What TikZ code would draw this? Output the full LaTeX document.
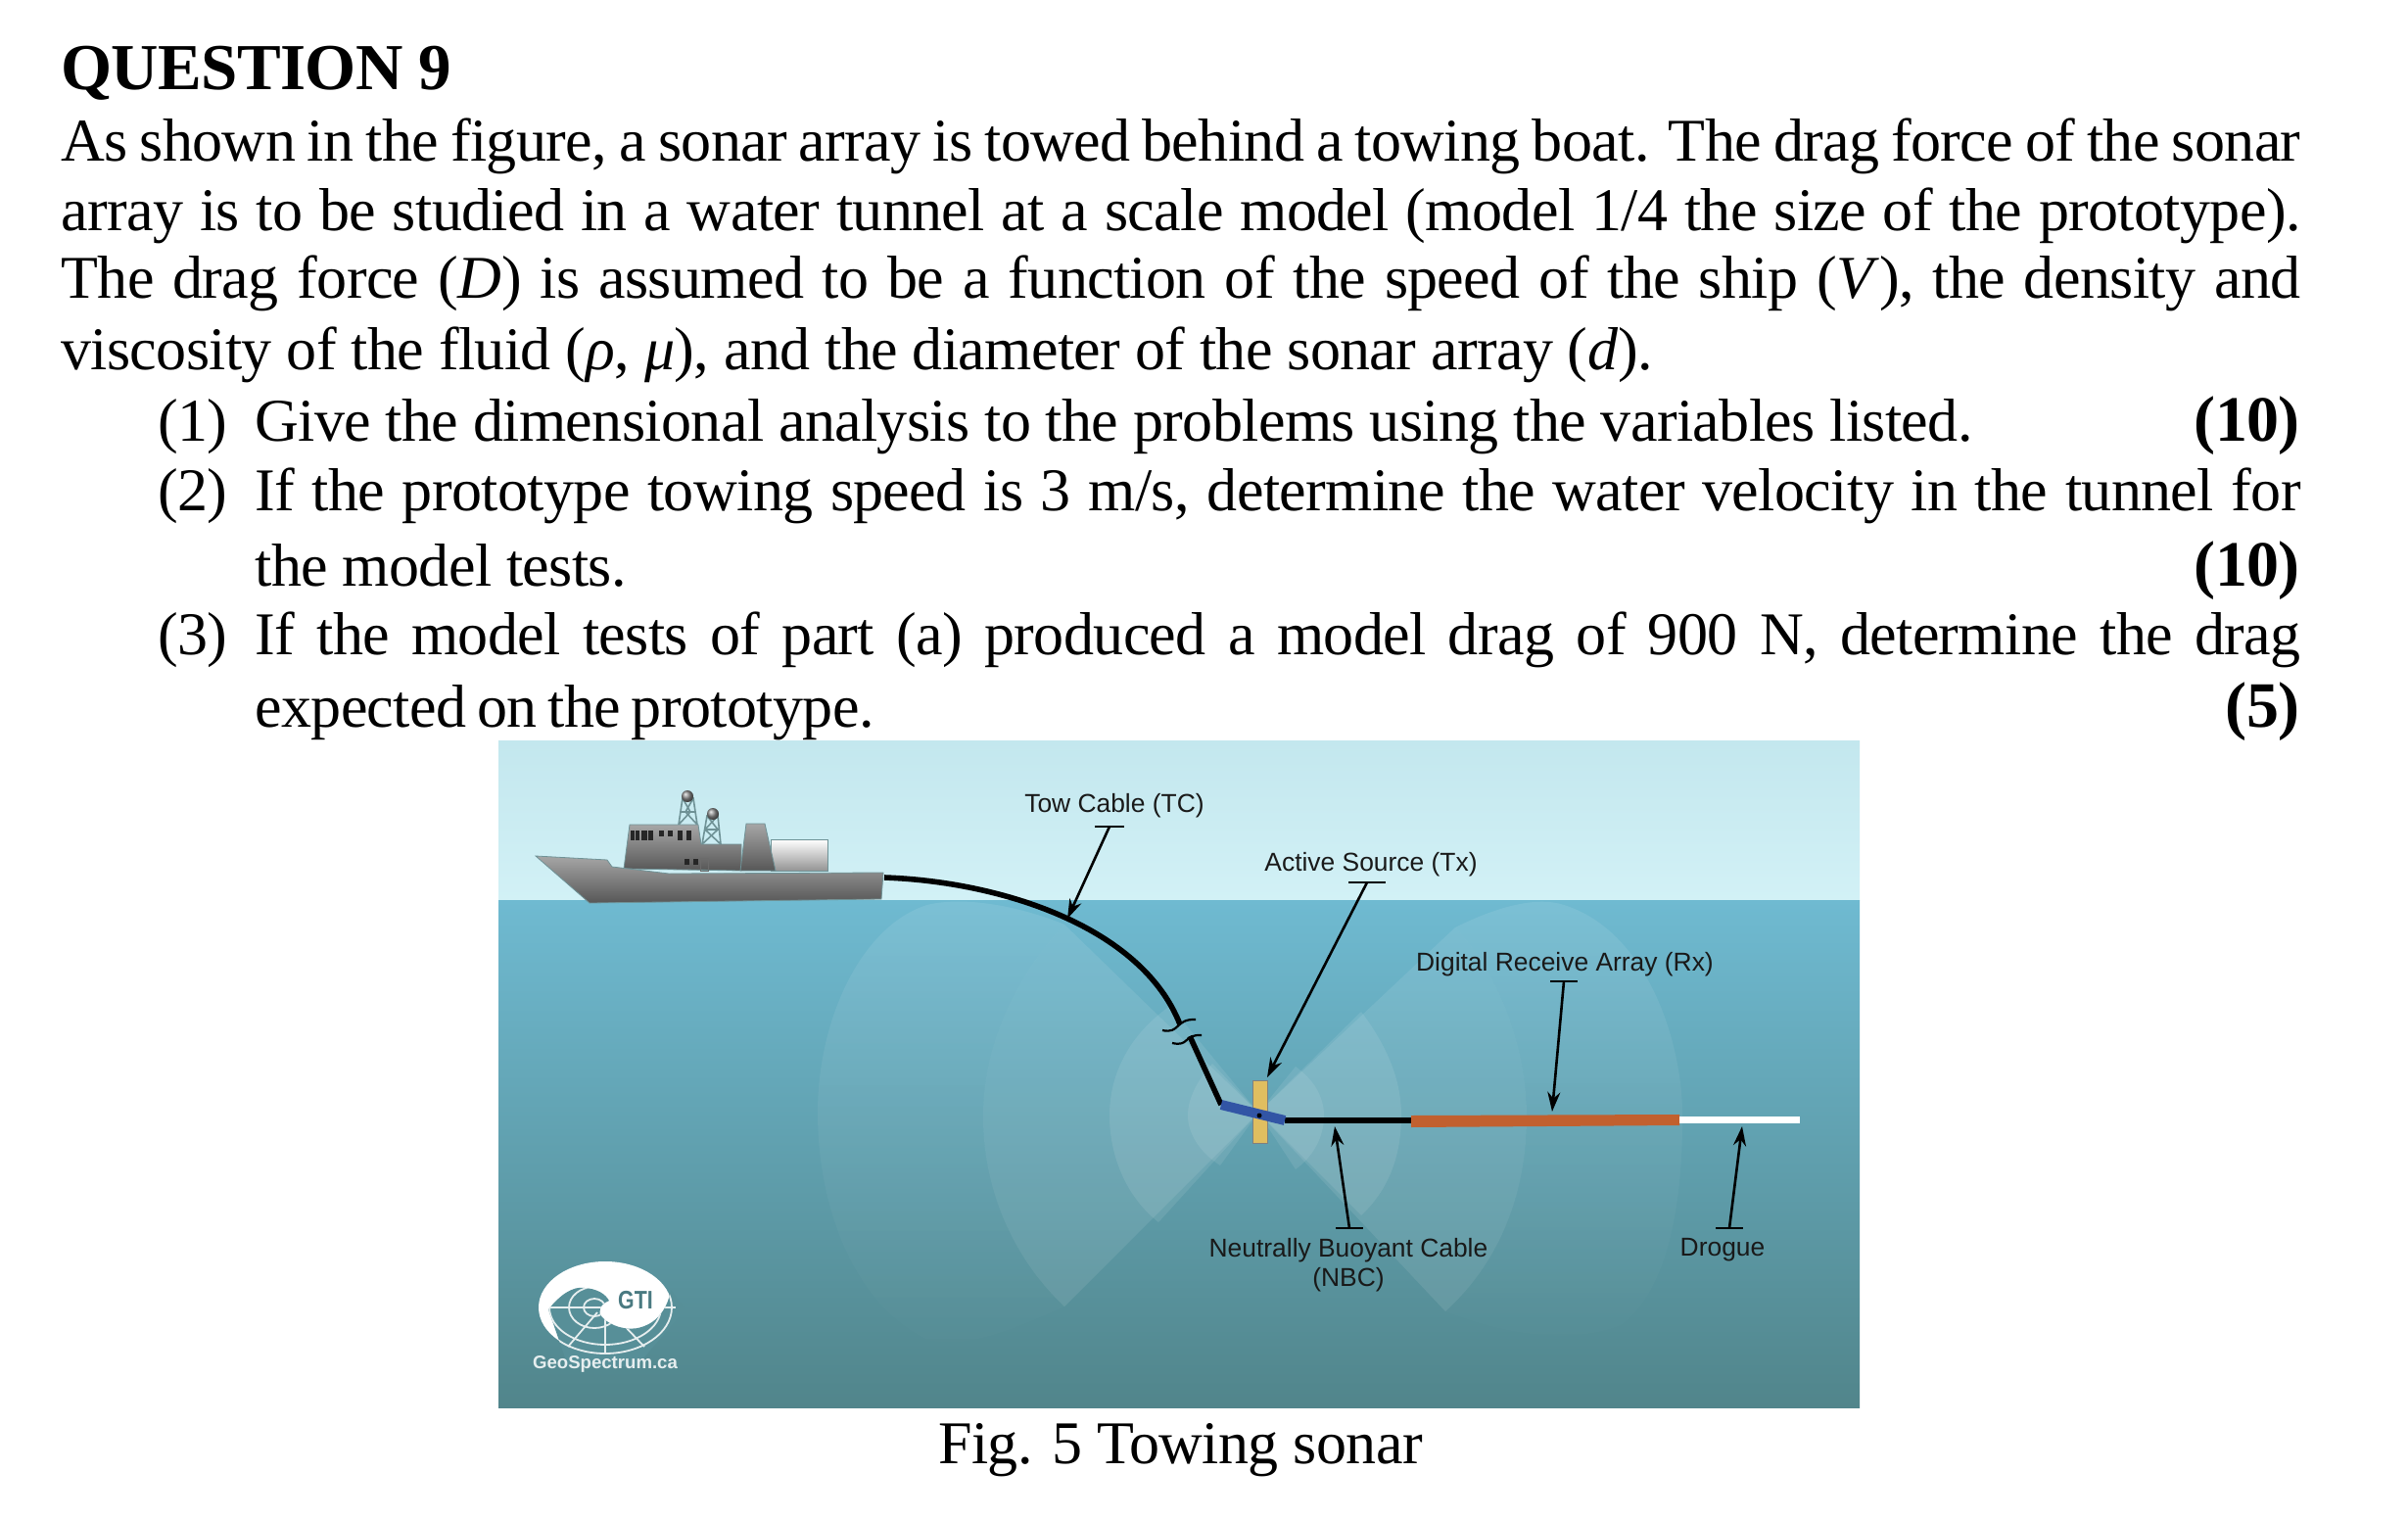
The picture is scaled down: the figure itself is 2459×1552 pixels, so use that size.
\documentclass[tikz,border=0pt]{standalone}
\usepackage{fontspec}
\setmainfont[LetterSpace=-1]{Liberation Serif}
\newfontfamily\labelfont{Liberation Sans}
\usetikzlibrary{arrows.meta, positioning, calc, fadings}
\definecolor{skytop}{HTML}{C3E7EE}
\definecolor{skylow}{HTML}{D2F1F6}
\definecolor{watertop}{HTML}{6FBAD1}
\definecolor{waterlow}{HTML}{51858B}
\definecolor{logoteal}{HTML}{578F98}
\definecolor{arrayred}{HTML}{C1602F}
\definecolor{bodyblue}{HTML}{3255A5}
\definecolor{finyellow}{HTML}{E0BE60}
\definecolor{lattice}{HTML}{6F9296}
\tikzfading[name=lobefade, top color=transparent!35, bottom color=transparent!95]
\newcommand{\fullline}[2]{\hbox to #1{\spaceskip=.25em plus 1em minus .12em #2}}

\begin{document}
\begin{tikzpicture}[
  x=0.5pt, y=-0.5pt,
  txt/.style={anchor=base west, inner sep=0pt, font=\fontsize{31}{36}\selectfont},
  pts/.style={anchor=base east, inner sep=0pt, font=\fontsize{33}{36}\selectfont\bfseries},
  tag/.style={inner sep=0pt, align=center, text=black!90, font=\fontsize{13.2}{15}\selectfont\labelfont},
  leader/.style={line width=1.3pt, -{Stealth[length=10pt, width=6.5pt]}},
  capbar/.style={line width=1.4pt},
  cable/.style={line width=2.8pt},
  lobe/.style={fill=white, fill opacity=0.09},
  farlobe/.style={fill=white, fill opacity=0.14, path fading=lobefade},
  steel/.style={top color=black!35, bottom color=black!66, draw=lattice, line width=0.4pt},
  mast/.style={draw=lattice, line width=0.8pt},
  win/.style={fill=black!85},
]
  \path[use as bounding box, fill=white] (0,0) rectangle (2459,1552);

  \node[txt, font=\fontsize{33.5}{36}\selectfont\bfseries] (title) at (62,92) {QUESTION 9};
  \node[txt] (ln1) at (62,164) {\fullline{1143.5pt}{As shown in the figure, a sonar array is towed behind a towing boat. The drag force of the sonar}};
  \node[txt] (ln2) at (62,235) {\fullline{1143.5pt}{array is to be studied in a water tunnel at a scale model (model 1/4 the size of the prototype).}};
  \node[txt] (ln3) at (62,304) {\fullline{1143.5pt}{The drag force (\textit{D}) is assumed to be a function of the speed of the ship (\textit{V}), the density and}};
  \node[txt] (ln4) at (62,377) {viscosity of the fluid (\textit{ρ}, \textit{μ}), and the diameter of the sonar array (\textit{d}).};
  \node[txt] (num1) at (161,450) {(1)};
  \node[txt] (it1) at (260,450) {Give the dimensional analysis to the problems using the variables listed.};
  \node[pts] (pts1) at (2349,450) {(10)};
  \node[txt] (num2) at (161,521) {(2)};
  \node[txt] (it2) at (260,521) {\fullline{1044.5pt}{If the prototype towing speed is 3 m/s, determine the water velocity in the tunnel for}};
  \node[txt] (it2b) at (260,598) {the model tests.};
  \node[pts] (pts2) at (2349,598) {(10)};
  \node[txt] (num3) at (161,668) {(3)};
  \node[txt] (it3) at (260,668) {\fullline{1044.5pt}{If the model tests of part (a) produced a model drag of 900 N, determine the drag}};
  \node[txt] (it3b) at (260,742) {\hbox to 316pt{\spaceskip=.25em plus 1em minus .12em expected on the prototype.}};
  \node[pts] (pts3) at (2349,742) {(5)};
  \node[txt] (caption) at (958,1494) {Fig. 5 Towing sonar};

  \shade[top color=skytop, bottom color=skylow] (509,756) rectangle (1899,919);
  \shade[top color=watertop, bottom color=waterlow] (509,919) rectangle (1899,1437);

  \fill[lobe] (1285,1136) -- (1238,1086) .. controls (1222,1104) and (1213,1122) .. (1213,1139) .. controls (1213,1156) and (1224,1176) .. (1246,1190) -- cycle;
  \fill[lobe] (1285,1136) -- (1195,1027) .. controls (1155,1055) and (1133,1095) .. (1133,1139) .. controls (1133,1180) and (1150,1222) .. (1183,1248) -- cycle;
  \fill[lobe] (1285,1136) -- (1087,944) .. controls (1035,1000) and (1004,1070) .. (1004,1140) .. controls (1004,1215) and (1035,1285) .. (1087,1334) -- cycle;
  \fill[farlobe] (1087,944) .. controls (1040,925) and (985,915) .. (947,924) .. controls (880,945) and (835,1040) .. (835,1136) .. controls (835,1230) and (870,1330) .. (947,1368) .. controls (990,1380) and (1050,1350) .. (1087,1334) .. controls (1035,1285) and (1004,1215) .. (1004,1140) .. controls (1004,1070) and (1035,1000) .. (1087,944) -- cycle;
  \fill[lobe] (1285,1136) -- (1323,1089) .. controls (1342,1103) and (1352,1120) .. (1352,1139) .. controls (1352,1160) and (1342,1180) .. (1323,1194) -- cycle;
  \fill[lobe] (1285,1136) -- (1390,1033) .. controls (1418,1070) and (1431,1105) .. (1431,1139) .. controls (1431,1180) and (1418,1215) .. (1390,1241) -- cycle;
  \fill[lobe] (1285,1136) -- (1486,947) .. controls (1535,1000) and (1559,1075) .. (1559,1140) .. controls (1559,1220) and (1530,1290) .. (1476,1339) -- cycle;
  \fill[farlobe] (1486,947) .. controls (1530,925) and (1570,915) .. (1597,924) .. controls (1680,950) and (1718,1060) .. (1718,1140) .. controls (1718,1240) and (1700,1320) .. (1655,1353) .. controls (1600,1375) and (1530,1360) .. (1476,1339) .. controls (1530,1290) and (1559,1220) .. (1559,1140) .. controls (1559,1075) and (1535,1000) .. (1486,947) -- cycle;

  \shade[top color=white, bottom color=black!42, draw=lattice, line width=0.4pt] (787,857) rectangle (845,889);
  \draw[mast] (693,842) -- (697,815) -- (708,815) -- (712,842) (693,842) -- (705,829) -- (697,815) (712,842) -- (700,829) -- (708,815) (695,829) -- (710,829);
  \draw[mast] (717,862) -- (722,833) -- (733,833) -- (736,862) (717,862) -- (733,847) -- (722,833) (736,862) -- (720,847) -- (733,833) (719,847) -- (735,847);
  \shade[steel] (637,887) -- (643,842) -- (713,842) -- (716,862) -- (757,862) -- (757,889) -- cycle;
  \shade[steel] (756,889) -- (762,841) -- (781,841) -- (792,889) -- cycle;
  \shade[steel] (547,874) -- (620,878) -- (625,885) -- (683,892) -- (902,891) -- (900,918) -- (602,922) -- cycle;
  \shade[ball color=black!45] (702,813) circle (6);
  \shade[ball color=black!45] (728,831) circle (6);
  \fill[win] (644,848) rectangle (648,858);
  \fill[win] (649,848) rectangle (653,858);
  \fill[win] (655,848) rectangle (661,858);
  \fill[win] (662,848) rectangle (667,858);
  \fill[win] (673,848) rectangle (678,854);
  \fill[win] (682,848) rectangle (687,854);
  \fill[win] (692,848) rectangle (697,858);
  \fill[win] (701,848) rectangle (706,858);
  \fill[win] (699,877) rectangle (704,883);
  \fill[win] (708,877) rectangle (713,883);
  \draw[black!58, line width=0.4pt] (715,889) rectangle (723,876);

  \coordinate (stern) at (903,896);
  \coordinate (breakup) at (1205,1046);
  \coordinate (breaklow) at (1215,1058);
  \coordinate (bodyfront) at (1247,1128);
  \coordinate (bodyrear) at (1312,1144);
  \coordinate (arrayfront) at (1441,1144);
  \draw[cable] (stern) .. controls (1020,900) and (1165,945) .. (breakup);
  \draw[cable] (breaklow) -- (bodyfront);
  \draw[line width=1.1pt] (1187,1052) .. controls (1205,1056) and (1200,1040) .. (1221,1041);
  \draw[line width=1.1pt] (1197,1065) .. controls (1215,1069) and (1208,1056) .. (1227,1057);
  \draw[line width=3.4pt] (bodyrear) -- (arrayfront);
  \fill[arrayred] (1441,1139) -- (1715,1138) -- (1715,1149) -- (1441,1151) -- cycle;
  \fill[white] (1715,1140) rectangle (1838,1147);
  \fill[finyellow, draw=black!50, line width=0.3pt] (1279,1103) rectangle (1294,1167);
  \draw[bodyblue, line width=5pt] (bodyfront) -- (bodyrear);
  \fill[black] (1286,1139) circle (2.5);

  \coordinate (tcbar) at (1133,844);
  \coordinate (tctip) at (1090,938);
  \coordinate (txbar) at (1396,901);
  \coordinate (txtip) at (1294,1100);
  \coordinate (rxbar) at (1597,1002);
  \coordinate (rxtip) at (1585,1135);
  \coordinate (nbcbar) at (1378,1254);
  \coordinate (nbctip) at (1363,1150);
  \coordinate (drogbar) at (1766,1254);
  \coordinate (drogtip) at (1779,1150);
  \draw[leader] (tcbar) -- (tctip);
  \draw[leader] (txbar) -- (txtip);
  \draw[leader] (rxbar) -- (rxtip);
  \draw[leader] (nbcbar) -- (nbctip);
  \draw[leader] (drogbar) -- (drogtip);
  \draw[capbar] (tcbar) ++(-15,0) -- ++(30,0);
  \draw[capbar] (txbar) ++(-19,0) -- ++(38,0);
  \draw[capbar] (rxbar) ++(-14,0) -- ++(28,0);
  \draw[capbar] (nbcbar) ++(-14,0) -- ++(28,0);
  \draw[capbar] (drogbar) ++(-14,0) -- ++(28,0);

  \node[tag] (tclabel) at (1138,823) {Tow Cable (TC)};
  \node[tag] (txlabel) at (1400,883) {Active Source (Tx)};
  \node[tag] (rxlabel) at (1598,985) {Digital Receive Array (Rx)};
  \node[tag] (nbclabel) at (1377,1292) {Neutrally Buoyant Cable\\(NBC)};
  \node[tag] (droglabel) at (1759,1276) {Drogue};

  \fill[white] (618,1335) ellipse [x radius=68, y radius=47];
  \begin{scope}
    \clip (560,1337) .. controls (572,1322) and (585,1313) .. (597,1315) .. controls (610,1316) and (618,1321) .. (622,1328) .. controls (612,1332) and (610,1340) .. (615,1345) .. controls (622,1353) and (640,1360) .. (655,1355) .. controls (672,1350) and (682,1335) .. (685,1317) -- (700,1337) -- (650,1395) -- (580,1395) -- cycle;
    \fill[logoteal] (500,1300) rectangle (710,1400);
    \draw[white!85!logoteal, line width=0.9pt] (618,1335) ellipse [x radius=68, y radius=47];
    \draw[white!85!logoteal, line width=0.9pt] (618,1335) ellipse [x radius=57, y radius=38];
    \draw[white!85!logoteal, line width=0.9pt] (607,1335) ellipse [x radius=26, y radius=21];
    \draw[white!85!logoteal, line width=0.9pt] (607,1335) ellipse [x radius=11, y radius=9];
    \draw[white!85!logoteal, line width=0.9pt] (555,1335) -- (690,1335);
    \draw[white!85!logoteal, line width=0.9pt] (618,1345) -- (618,1382);
    \draw[white!85!logoteal, line width=0.9pt] (610,1340) -- (580,1375);
    \draw[white!85!logoteal, line width=0.9pt] (636,1352) -- (658,1375);
  \end{scope}
  \node[inner sep=0pt, xscale=0.82, text=logoteal!85!black, font=\fontsize{13}{15}\selectfont\labelfont\bfseries] (gti) at (649,1328) {GTI};
  \node[inner sep=0pt, text=white!85!logoteal, font=\fontsize{9.3}{10}\selectfont\labelfont\bfseries] (geolabel) at (618,1393) {GeoSpectrum.ca};
\end{tikzpicture}
\end{document}
